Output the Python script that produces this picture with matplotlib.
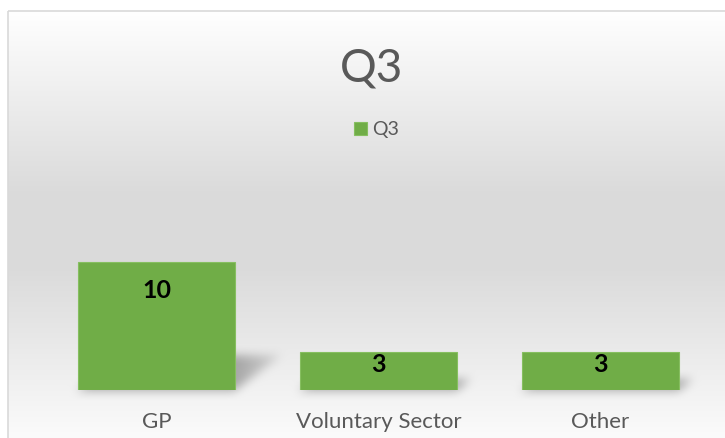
import numpy as np
import matplotlib
matplotlib.use("Agg")
import matplotlib.pyplot as plt
from matplotlib.patches import Rectangle

# chart data
categories = ["GP", "Voluntary Sector", "Other"]
values = [10, 3, 3]
series_name = "Q3"
title = "Q3"

W, H, DPI = 725, 438, 100
bar_color = "#70AD47"
text_color = "#595959"

plt.rcParams['font.family'] = ['Lato', 'DejaVu Sans']

fig = plt.figure(figsize=(W / DPI, H / DPI), dpi=DPI)
fig.patch.set_facecolor("white")

# background axes in pixel coordinates (row 0 = top)
bg = fig.add_axes([0, 0, 1, 1])
bg.set_xlim(0, W)
bg.set_ylim(H, 0)
bg.axis('off')

# main plot axes
ax = fig.add_axes([45.5 / W, (H - 390) / H, 666 / W, 153.6 / H])
ax.set_xlim(-0.5, len(categories) - 0.5)
ax.set_ylim(0, 12)
ax.patch.set_alpha(0)
for s in ax.spines.values():
    s.set_visible(False)
ax.set_yticks([])
ax.set_xticks(range(len(categories)))
ax.set_xticklabels(categories, fontsize=16, color=text_color)
ax.tick_params(axis='x', length=0, pad=15.5)

bar_w = 0.71
bars = ax.bar(range(len(categories)), values, width=bar_w, color=bar_color,
              edgecolor="#86bf60", linewidth=0.8, zorder=3)

# gradient background of the chart area
top, left = 11, 8
rows = np.arange(H)
shade = np.interp(rows, [top, 195, 265, H], [1.0, 0.855, 0.855, 0.985])
shade[:top] = 1.0
img = np.repeat(shade[:, None], W, axis=1)
img[:, :left] = 1.0

# soft perspective shadow behind each bar
mask = np.zeros((H, W))
for i, v in enumerate(values):
    (x0, y0) = ax.transData.transform((i - bar_w / 2, 0))
    (x1, y1) = ax.transData.transform((i + bar_w / 2, v))
    base = H - y0
    bh = y1 - y0
    sh = 0.27 * bh
    skew = 0.36 * bh
    for r in range(int(base - sh), int(base) + 1):
        t = (base - r) / sh
        a = int(x0 + skew * t)
        b = int(x1 + skew * t)
        # fade out away from the bar
        fade = np.clip(1 - (np.arange(a, b) - x1) / (skew + 20), 0, 1)
        fade[np.arange(a, b) < x1] = 1.0
        lo, hi = max(a, 0), min(b, W)
        mask[r, lo:hi] = fade[lo - a:hi - a]


def box_blur(m, k):
    kern = np.ones(k) / k
    m = np.apply_along_axis(lambda x: np.convolve(x, kern, mode='same'), 1, m)
    m = np.apply_along_axis(lambda x: np.convolve(x, kern, mode='same'), 0, m)
    return m


mask = box_blur(box_blur(mask, 11), 11)
img = img * (1 - 0.30 * mask)
rgb = np.dstack([img, img, img])
bg.imshow(rgb, extent=(0, W, H, 0), interpolation='nearest', aspect='auto', zorder=0)
bg.add_patch(Rectangle((left, top), W, H, fill=False, edgecolor="#d9d9d9", linewidth=1.2, zorder=1))

# data labels, inside end
px_per_unit = (ax.transData.transform((0, 1))[1] - ax.transData.transform((0, 0))[1])
for i, v in enumerate(values):
    off_px = min(28, v * px_per_unit / 2 - 6)
    ax.annotate(str(v), (i, v), xytext=(0, -off_px * 72 / DPI), textcoords='offset points',
                ha='center', va='center', fontsize=18, fontweight='bold', color='black', zorder=4)

# title
fig.text(372 / W, 1 - 81 / H, title, ha='center', va='baseline', fontsize=33,
         fontweight='normal', color=text_color)

# legend
ax.legend([bars[0]], [series_name], loc='center', bbox_to_anchor=(376.5 / W, 1 - 129.5 / H),
          bbox_transform=fig.transFigure, frameon=False, fontsize=14, labelcolor=text_color,
          handlelength=0.65, handleheight=0.65, handletextpad=0.25)

fig.savefig("out.png", dpi=DPI)
